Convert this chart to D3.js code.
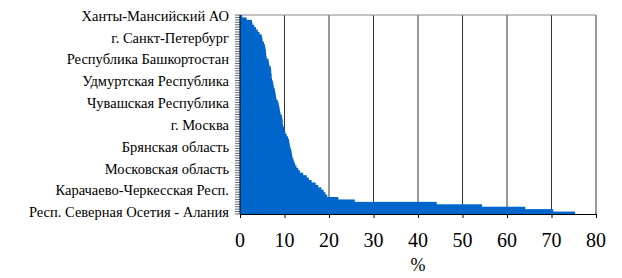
<!DOCTYPE html>
<html>
<head>
<meta charset="utf-8">
<script src="https://cdn.jsdelivr.net/npm/d3@7"></script>
<style>
  body { margin: 0; }
  svg text { font-family: "Liberation Serif"; }
</style>
</head>
<body>
<div id="root"></div>
<script>
// share of each region, %, sorted ascending (top to bottom)
const values = [
  0.5, 1.5, 2.7, 2.8, 3.2, 3.6, 4.0, 4.4, 4.9, 5.0,
  5.1, 5.4, 5.6, 5.7, 5.8, 5.85, 5.9, 6.0, 6.4, 6.5,
  6.6, 6.9, 7.0, 7.0, 7.1, 7.1, 7.2, 7.4, 7.5, 7.6,
  7.8, 7.9, 8.0, 8.1, 8.2, 8.5, 8.7, 8.8, 8.9, 9.0,
  9.1, 9.4, 9.5, 9.6, 9.6, 9.7, 9.9, 10.0, 10.2, 10.5,
  10.8, 11.0, 11.1, 11.2, 11.3, 11.5, 11.6, 11.7, 11.8, 12.0,
  12.2, 12.4, 12.7, 13.1, 13.5, 14.2, 15.0, 15.5, 16.1, 17.0,
  17.6, 18.3, 18.8, 19.2, 19.6, 22.1, 25.8, 44.2, 54.4, 64.1,
  70.4, 75.3
];
// only every 9th region is labelled on the axis
const shownLabels = [
  "Ханты-Мансийский АО",
  "г. Санкт-Петербург",
  "Республика Башкортостан",
  "Удмуртская Республика",
  "Чувашская Республика",
  "г. Москва",
  "Брянская область",
  "Московская область",
  "Карачаево-Черкесская Респ.",
  "Респ. Северная Осетия - Алания"
];
const labelStep = 9;
const xTicks = [0, 10, 20, 30, 40, 50, 60, 70, 80];
const xTitle = "%";

const W = 622, H = 278;
const m = { left: 240, right: 26, top: 15, bottom: 64 };
const fontName = '"Liberation Serif"';

const svg = d3.select("#root").append("svg")
  .attr("width", W).attr("height", H)
  .attr("font-family", "Liberation Serif");

const x = d3.scaleLinear().domain([0, 80]).range([m.left, W - m.right]);
const y = d3.scaleBand()
  .domain(d3.range(values.length))
  .range([m.top, H - m.bottom])
  .padding(0);

// gridlines
svg.append("g")
  .selectAll("line")
  .data(xTicks.slice(1))
  .join("line")
  .attr("x1", d => x(d)).attr("x2", d => x(d))
  .attr("y1", m.top).attr("y2", H - m.bottom)
  .attr("stroke", "#333").attr("stroke-width", 1);

// plot frame top
svg.append("line")
  .attr("x1", m.left).attr("x2", W - m.right)
  .attr("y1", m.top).attr("y2", m.top)
  .attr("stroke", "#888");

// bars (each slightly overlaps the next so no seams show)
svg.append("g")
  .selectAll("rect")
  .data(values)
  .join("rect")
  .attr("x", x(0))
  .attr("y", (d, i) => y(i))
  .attr("width", d => x(d) - x(0))
  .attr("height", (d, i) => i < values.length - 1 ? y.bandwidth() + 1 : y.bandwidth())
  .attr("fill", "#0066cc");

// left axis with a tick at every category boundary
svg.append("line")
  .attr("x1", m.left).attr("x2", m.left)
  .attr("y1", m.top).attr("y2", H - m.bottom)
  .attr("stroke", "#000");
svg.append("g")
  .selectAll("line")
  .data(d3.range(values.length + 1))
  .join("line")
  .attr("x1", m.left - 5).attr("x2", m.left)
  .attr("y1", i => m.top + i * y.step())
  .attr("y2", i => m.top + i * y.step())
  .attr("stroke", "#000").attr("stroke-width", 0.6);

svg.selectAll("text.cat")
  .data(shownLabels)
  .join("text")
  .attr("class", "cat")
  .attr("text-anchor", "end")
  .attr("x", m.left - 11)
  .attr("y", (d, i) => y(i * labelStep) + y.bandwidth() / 2 + 4.5)
  .attr("font-family", "Liberation Serif")
  .style("font-family", fontName)
  .style("font-size", "14.5px")
  .text(d => d);

// bottom axis: line and ticks from d3, labels as plain text
const xAxis = svg.append("g")
  .attr("transform", `translate(0,${H - m.bottom})`)
  .call(d3.axisBottom(x).tickValues(xTicks).tickSize(4).tickFormat(""));
xAxis.select(".domain").attr("stroke", "#000");
xAxis.selectAll(".tick line").attr("stroke", "#000");

svg.selectAll("text.num")
  .data(xTicks)
  .join("text")
  .attr("class", "num")
  .attr("text-anchor", "middle")
  .attr("x", d => x(d))
  .attr("y", 247)
  .attr("font-family", "Liberation Serif")
  .style("font-family", fontName)
  .style("font-size", "20px")
  .text(d => d);

svg.append("text")
  .attr("text-anchor", "middle")
  .attr("x", (x(0) + x(80)) / 2)
  .attr("y", 271)
  .attr("font-family", "Liberation Serif")
  .style("font-family", fontName)
  .style("font-size", "18px")
  .text(xTitle);
</script>
</body>
</html>
